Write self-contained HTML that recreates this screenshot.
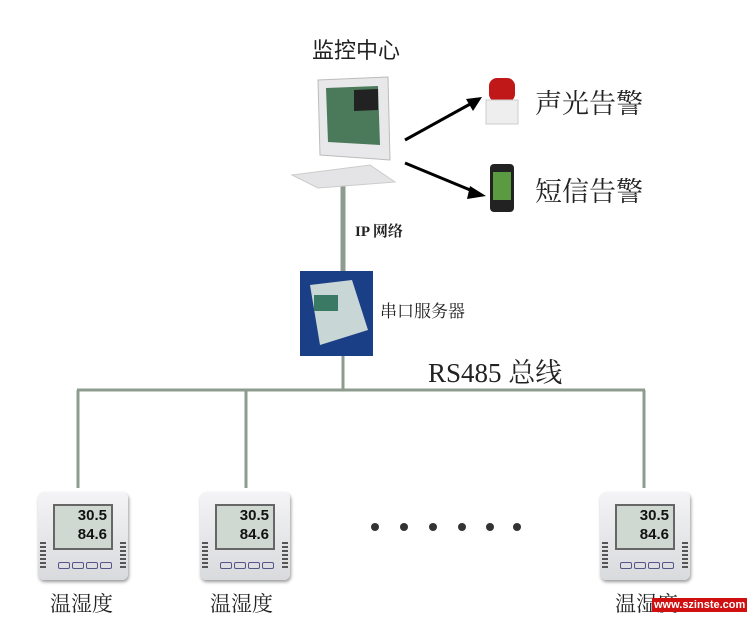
<!DOCTYPE html>
<html><head><meta charset="utf-8"><style>
body{margin:0;background:#fff;width:750px;height:624px;position:relative;overflow:hidden;font-family:"Liberation Serif","Noto Serif CJK SC",serif}
.t{position:absolute;color:#222;white-space:nowrap}
.dev{position:absolute;width:90px;height:88px;background:linear-gradient(#f4f4f6,#d9dadd);border-radius:6px;box-shadow:1px 2px 3px #999}
.scr{position:absolute;left:15px;top:12px;width:60px;height:46px;background:#cfd9d2;border:2px solid #666;font:bold 15px "Liberation Sans",sans-serif;color:#111;text-align:right;padding-right:4px;box-sizing:border-box;line-height:19px}
.ven{position:absolute;top:50px;width:6px;height:26px;background:repeating-linear-gradient(#555 0 2px,transparent 2px 4px)}
.btn{position:absolute;top:70px;width:10px;height:5px;border:1px solid #558;border-radius:2px}
</style></head><body>
<svg width="750" height="624" style="position:absolute;left:0;top:0">
<g stroke="#8e9c90" stroke-width="3" fill="none">
<line x1="343" y1="185" x2="343" y2="272" stroke-width="5"/>
<line x1="343" y1="352" x2="343" y2="390"/>
<line x1="77" y1="390" x2="645" y2="390"/>
<line x1="78" y1="390" x2="78" y2="488"/>
<line x1="246" y1="390" x2="246" y2="488"/>
<line x1="644" y1="390" x2="644" y2="488"/>
</g>
<g stroke="#000" stroke-width="3">
<line x1="405" y1="140" x2="472" y2="103"/>
<line x1="405" y1="163" x2="475" y2="192"/>
</g>
<polygon points="482,97 466,99 473,111" fill="#000"/>
<polygon points="486,196 470,186 467,199" fill="#000"/>
<path d="M318,80 L388,77 L390,160 L320,155 Z" fill="#e8e8ea" stroke="#bbb"/>
<path d="M326,88 L378,86 L380,145 L328,142 Z" fill="#4a7a5a"/>
<path d="M354,90 L378,89 L378,110 L354,111 Z" fill="#222"/>
<path d="M292,175 L370,165 L395,182 L318,188 Z" fill="#e4e4e6" stroke="#ccc"/>
<rect x="489" y="78" width="26" height="24" rx="8" fill="#c01818"/>
<rect x="486" y="100" width="32" height="24" fill="#eee" stroke="#ccc"/>
<rect x="490" y="164" width="24" height="48" rx="4" fill="#222"/>
<rect x="493" y="172" width="18" height="28" fill="#5a9a40"/>
<rect x="300" y="271" width="73" height="85" fill="#1b3f86"/>
<path d="M310,285 L352,280 L368,330 L320,345 Z" fill="#c9d6d6"/>
<rect x="314" y="295" width="24" height="16" fill="#3a7a64"/>
<g fill="#333">
<circle cx="375" cy="527" r="4"/><circle cx="404" cy="527" r="4"/><circle cx="433" cy="527" r="4"/><circle cx="462" cy="527" r="4"/><circle cx="490" cy="527" r="4"/><circle cx="517" cy="527" r="4"/>
</g>
</svg>
<div class="t" style="left:312px;top:33px;font-size:22px;font-family:'Liberation Sans','Noto Sans CJK SC',sans-serif">监控中心</div>
<div class="t" style="left:535px;top:82px;font-size:27px">声光告警</div>
<div class="t" style="left:535px;top:170px;font-size:27px">短信告警</div>
<div class="t" style="left:355px;top:220px;font-size:15px;font-weight:bold">IP 网络</div>
<div class="t" style="left:380px;top:297px;font-size:17px">串口服务器</div>
<div class="t" style="left:428px;top:351px;font-size:27px">RS485 总线</div>

<div class="dev" style="left:38px;top:492px"><div class="ven" style="left:2px"></div><div class="ven" style="right:2px"></div><div class="scr">30.5<br>84.6</div><div class="btn" style="left:20px"></div><div class="btn" style="left:34px"></div><div class="btn" style="left:48px"></div><div class="btn" style="left:62px"></div></div>
<div class="dev" style="left:200px;top:492px"><div class="ven" style="left:2px"></div><div class="ven" style="right:2px"></div><div class="scr">30.5<br>84.6</div><div class="btn" style="left:20px"></div><div class="btn" style="left:34px"></div><div class="btn" style="left:48px"></div><div class="btn" style="left:62px"></div></div>
<div class="dev" style="left:600px;top:492px"><div class="ven" style="left:2px"></div><div class="ven" style="right:2px"></div><div class="scr">30.5<br>84.6</div><div class="btn" style="left:20px"></div><div class="btn" style="left:34px"></div><div class="btn" style="left:48px"></div><div class="btn" style="left:62px"></div></div>

<div class="t" style="left:50px;top:588px;font-size:21px">温湿度</div>
<div class="t" style="left:210px;top:588px;font-size:21px">温湿度</div>
<div class="t" style="left:615px;top:588px;font-size:21px">温湿度</div>
<div class="t" style="left:652px;top:598px;font:bold 11px 'Liberation Sans',sans-serif;background:#d01010;color:#fff;padding:1px 2px">www.szinste.com</div>
</body></html>
